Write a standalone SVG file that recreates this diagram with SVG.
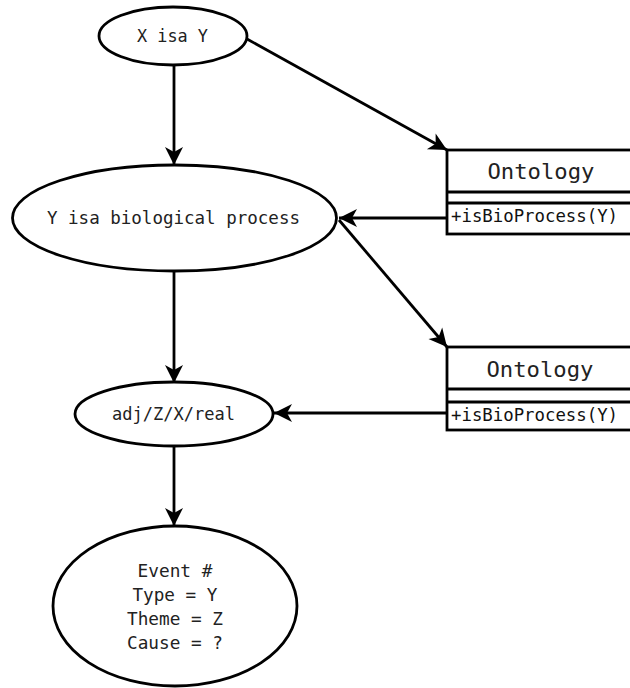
<svg xmlns="http://www.w3.org/2000/svg" width="630" height="688" viewBox="0 0 630 688">
<style>
.shape{fill:#fff;stroke:#000;stroke-width:2.8}
.edge{fill:none;stroke:#000;stroke-width:2.8}
.t{font-family:"DejaVu Sans Mono","Liberation Mono",monospace;font-size:18px;fill:#222;text-anchor:middle}
.tl{font-family:"DejaVu Sans Mono","Liberation Mono",monospace;font-size:18px;fill:#111}
.big{font-family:"DejaVu Sans Mono","Liberation Mono",monospace;font-size:22px;fill:#222;text-anchor:middle}
</style>
<defs>
<marker id="arr" markerUnits="userSpaceOnUse" markerWidth="22" markerHeight="22" viewBox="-20 -10 22 20" refX="0" refY="0" orient="auto">
<path d="M0,0 L-18,-9 L-13,0 L-18,9 Z" fill="#000"/>
</marker>
</defs>
<rect width="630" height="688" fill="#fff"/>
<g id="connectors">
<line class="edge" x1="247" y1="39" x2="447" y2="150" marker-end="url(#arr)"/>
<line class="edge" x1="174" y1="66" x2="174" y2="165" marker-end="url(#arr)"/>
<line class="edge" x1="447" y1="218" x2="339" y2="218" marker-end="url(#arr)"/>
<line class="edge" x1="339" y1="220" x2="447" y2="347" marker-end="url(#arr)"/>
<line class="edge" x1="174" y1="272" x2="174" y2="383" marker-end="url(#arr)"/>
<line class="edge" x1="447" y1="413" x2="274" y2="413" marker-end="url(#arr)"/>
<line class="edge" x1="174" y1="446" x2="174" y2="526" marker-end="url(#arr)"/>
</g>
<g id="n1">
<ellipse class="shape" cx="173" cy="36" rx="74" ry="29"/>
<text class="t" x="172.5" y="42" textLength="71" lengthAdjust="spacingAndGlyphs">X isa Y</text>
</g>
<g id="n2">
<ellipse class="shape" cx="174.5" cy="218" rx="162" ry="53"/>
<text class="t" x="173.5" y="224" textLength="253" lengthAdjust="spacingAndGlyphs">Y isa biological process</text>
</g>
<g id="n3">
<ellipse class="shape" cx="174" cy="414" rx="99" ry="32"/>
<text class="t" x="173.5" y="420" textLength="123" lengthAdjust="spacingAndGlyphs">adj/Z/X/real</text>
</g>
<g id="n4">
<ellipse class="shape" cx="175" cy="606" rx="122" ry="80"/>
<text class="t" x="175" y="577" textLength="75" lengthAdjust="spacingAndGlyphs">Event #</text>
<text class="t" x="175" y="601" textLength="85" lengthAdjust="spacingAndGlyphs">Type = Y</text>
<text class="t" x="175" y="625" textLength="96" lengthAdjust="spacingAndGlyphs">Theme = Z</text>
<text class="t" x="175" y="649" textLength="96" lengthAdjust="spacingAndGlyphs">Cause = ?</text>
</g>
<g id="ontology1">
<rect class="shape" x="447" y="150" width="200" height="84"/>
<line class="edge" x1="447" y1="192" x2="640" y2="192"/>
<line class="edge" x1="447" y1="203" x2="640" y2="203"/>
<text class="big" x="541" y="179" textLength="107" lengthAdjust="spacingAndGlyphs">Ontology</text>
<text class="tl" x="451" y="222" textLength="167" lengthAdjust="spacingAndGlyphs">+isBioProcess(Y)</text>
</g>
<g id="ontology2">
<rect class="shape" x="447" y="347" width="200" height="83"/>
<line class="edge" x1="447" y1="389" x2="640" y2="389"/>
<line class="edge" x1="447" y1="402" x2="640" y2="402"/>
<text class="big" x="540" y="377" textLength="107" lengthAdjust="spacingAndGlyphs">Ontology</text>
<text class="tl" x="451" y="421" textLength="167" lengthAdjust="spacingAndGlyphs">+isBioProcess(Y)</text>
</g>
</svg>
